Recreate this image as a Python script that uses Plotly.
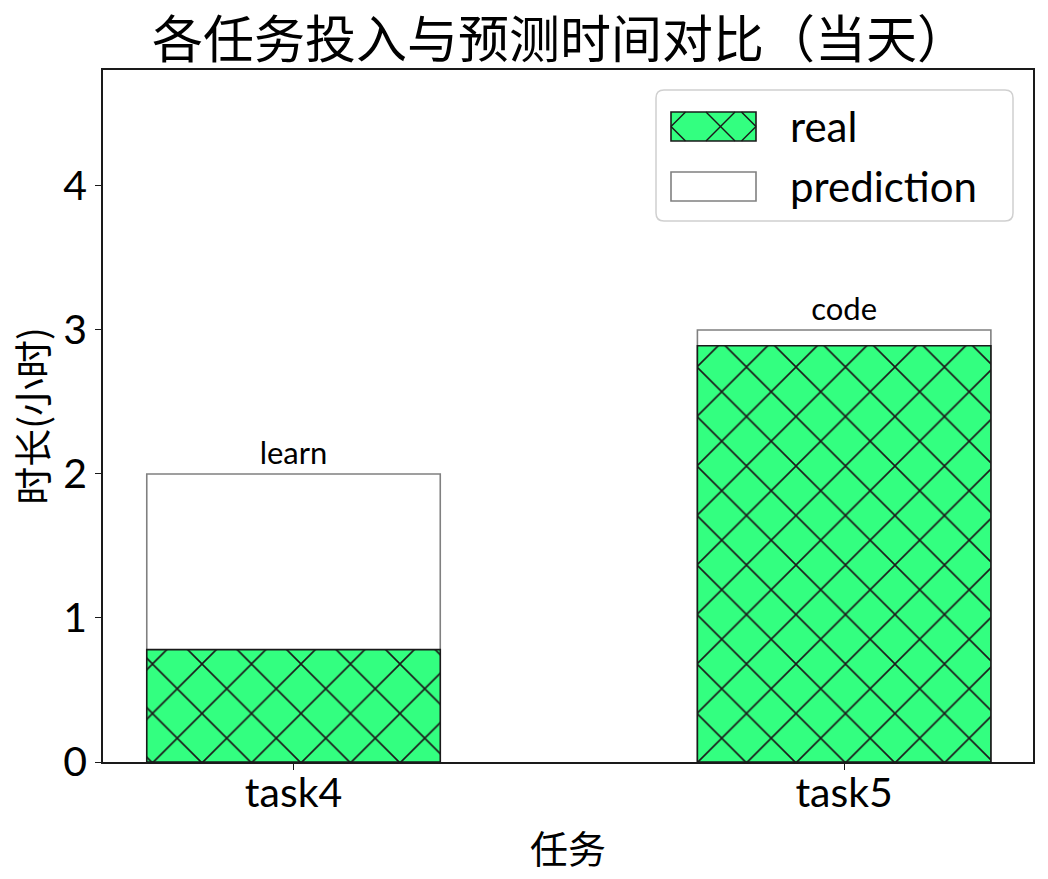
import plotly.graph_objects as go

tasks = ["task4", "task5"]
real_hours = [0.78, 2.89]
pred_hours = [2.0, 3.0]
pred_labels = ["learn", "code"]
y_ticks = [0, 1, 2, 3, 4]
legend_names = ["real", "prediction"]

LAT = "Lato, 'Noto Sans CJK SC', sans-serif"
CJK = "'Noto Sans CJK SC', sans-serif"
BW = 0.533
GREEN = "#33ff80"
DARK = "#1a1a1a"

# plot area in pixels (for placing the legend box)
PL, PR, PT, PB = 103, 1033, 70, 762


def px(x):
    return (x - PL) / (PR - PL)


def py(y):
    return (PB - y) / (PB - PT)


fig = go.Figure()
fig.add_trace(go.Bar(
    x=[0, 1], y=pred_hours, width=BW, name=legend_names[1],
    marker=dict(color="white", line=dict(color="#808080", width=1.6)),
    text=pred_labels, textposition="outside", cliponaxis=False,
    textfont=dict(family=LAT, size=31, color="black"),
    showlegend=False,
))
fig.add_trace(go.Bar(
    x=[0, 1], y=real_hours, width=BW, name=legend_names[0],
    marker=dict(color=GREEN, line=dict(color=DARK, width=1.6),
                pattern=dict(shape="x", fgcolor=DARK, fgopacity=1, size=35, solidity=0.09)),
    showlegend=False,
))

shapes = []
# legend frame (rounded)
x0, x1, y0, y1, r = 656, 1013, 90, 221, 8
path = (f"M {px(x0 + r)},{py(y0)} L {px(x1 - r)},{py(y0)} "
        f"Q {px(x1)},{py(y0)} {px(x1)},{py(y0 + r)} L {px(x1)},{py(y1 - r)} "
        f"Q {px(x1)},{py(y1)} {px(x1 - r)},{py(y1)} L {px(x0 + r)},{py(y1)} "
        f"Q {px(x0)},{py(y1)} {px(x0)},{py(y1 - r)} L {px(x0)},{py(y0 + r)} "
        f"Q {px(x0)},{py(y0)} {px(x0 + r)},{py(y0)} Z")
shapes.append(dict(type="path", xref="paper", yref="paper", path=path,
                   fillcolor="rgba(255,255,255,0.8)", line=dict(color="#d0d0d0", width=1.5)))
# real patch
shapes.append(dict(type="rect", xref="paper", yref="paper",
                   x0=px(671), x1=px(756), y0=py(141), y1=py(112),
                   fillcolor=GREEN, line=dict(color=DARK, width=1.6)))
for (ax, ay, bx, by) in [(671, 126.5, 685.5, 112), (671, 126.5, 685.5, 141),
                         (706, 112, 735, 141), (735, 112, 706, 141),
                         (756, 126.5, 741.5, 112), (756, 126.5, 741.5, 141)]:
    shapes.append(dict(type="line", xref="paper", yref="paper",
                       x0=px(ax), y0=py(ay), x1=px(bx), y1=py(by),
                       line=dict(color=DARK, width=1.5)))
# prediction patch
shapes.append(dict(type="rect", xref="paper", yref="paper",
                   x0=px(671), x1=px(756), y0=py(201), y1=py(172),
                   fillcolor="white", line=dict(color="#808080", width=1.6)))

annotations = [
    dict(text=legend_names[0], xref="paper", yref="paper", x=px(788), y=py(126),
         xanchor="left", yanchor="middle", showarrow=False,
         font=dict(family=LAT, size=42, color="black")),
    dict(text=legend_names[1], xref="paper", yref="paper", x=px(788), y=py(186),
         xanchor="left", yanchor="middle", showarrow=False,
         font=dict(family=LAT, size=42, color="black")),
]

fig.update_layout(
    width=1048, height=879,
    barmode="overlay",
    paper_bgcolor="white", plot_bgcolor="white",
    margin=dict(l=PL, r=1048 - PR, t=PT, b=879 - PB),
    title=dict(text="各任务投入与预测时间对比（当天）", xref="container", x=560 / 1048,
               xanchor="center", y=1 - 40 / 879, yanchor="middle",
               font=dict(family=CJK, size=51, color="black")),
    xaxis=dict(range=[-0.346, 1.343], tickvals=[0, 1], ticktext=tasks,
               showline=True, linecolor=DARK, linewidth=1.5, mirror=True,
               ticks="outside", ticklen=6, tickwidth=1.3, tickcolor=DARK,
               showgrid=False, zeroline=False, ticklabelstandoff=-12,
               tickfont=dict(family=LAT, size=41, color="black"),
               title=dict(text="任务", font=dict(family=CJK, size=38, color="black"), standoff=21)),
    yaxis=dict(range=[0, 4.805], tickvals=y_ticks,
               showline=True, linecolor=DARK, linewidth=1.5, mirror=True,
               ticks="outside", ticklen=6, tickwidth=1.3, tickcolor=DARK,
               showgrid=False, zeroline=False,
               tickfont=dict(family=LAT, size=41, color="black"),
               title=dict(text="时长(小时)", font=dict(family=CJK, size=38, color="black"), standoff=4)),
    shapes=shapes,
    annotations=annotations,
    showlegend=False,
)

fig.write_html("out.html")
